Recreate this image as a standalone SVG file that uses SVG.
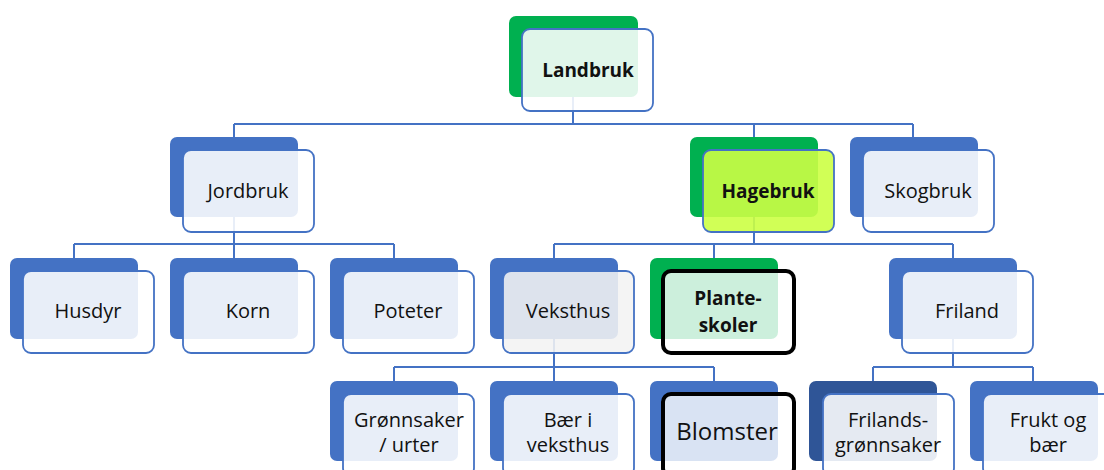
<svg xmlns="http://www.w3.org/2000/svg" width="1104" height="470" viewBox="0 0 1104 470">
<style>
.bg{fill:#ffffff}
.back{fill:#4472C4}
.backg{fill:#00B050}
.backd{fill:#2F5597}
.front{fill:#ffffff;fill-opacity:0.88;stroke:#4472C4;stroke-width:1.8}
.frontgray{fill:#F2F2F2;fill-opacity:0.88;stroke:#4472C4;stroke-width:1.8}
.frontlime{fill:#CCFF44;fill-opacity:0.9;stroke:#4472C4;stroke-width:1.8}
.frontblack{fill:#ffffff;fill-opacity:0.8;stroke:#000000;stroke-width:4}
.conn{fill:none;stroke:#4472C4;stroke-width:2}
text{font-family:"Open Sans","Noto Sans","DejaVu Sans",sans-serif;font-size:20px;fill:#111111;text-anchor:middle}
.b{font-weight:bold;font-size:19px}
.big{font-size:24px}
</style>
<rect class="bg" x="0" y="0" width="1104" height="470"/>
<g id="connectors">
<path class="conn" d="M573,97 V124 M234,124 H913 M234,124 V137 M754,124 V137 M913,124 V137"/>
<path class="conn" d="M234,217 V244 M74,244 H394 M74,244 V258 M234,244 V258 M394,244 V258"/>
<path class="conn" d="M754,217 V244 M554,244 H953 M554,244 V258 M714,244 V258 M953,244 V258"/>
<path class="conn" d="M554,339 V367 M394,367 H714 M394,367 V381 M554,367 V381 M714,367 V381"/>
<path class="conn" d="M953,339 V367 M873,367 H1033 M873,367 V381 M1033,367 V381"/>
</g>
<g id="landbruk">
<rect class="backg" x="509" y="16" width="129" height="81" rx="7"/>
<rect class="front" x="522" y="29" width="131" height="82" rx="8"/>
<text class="b" x="588" y="77">Landbruk</text>
</g>
<g id="jordbruk">
<rect class="back" x="170" y="137" width="128" height="80" rx="7"/>
<rect class="front" x="183" y="150" width="131" height="82" rx="8"/>
<text x="248" y="198">Jordbruk</text>
</g>
<g id="hagebruk">
<rect class="backg" x="690" y="137" width="128" height="80" rx="7"/>
<rect class="frontlime" x="703" y="150" width="131" height="82" rx="8"/>
<text class="b" x="768" y="198">Hagebruk</text>
</g>
<g id="skogbruk">
<rect class="back" x="850" y="137" width="128" height="80" rx="7"/>
<rect class="front" x="863" y="150" width="131" height="82" rx="8"/>
<text x="928" y="198">Skogbruk</text>
</g>
<g id="husdyr">
<rect class="back" x="10" y="258" width="128" height="81" rx="7"/>
<rect class="front" x="23" y="271" width="131" height="82" rx="8"/>
<text x="88" y="318">Husdyr</text>
</g>
<g id="korn">
<rect class="back" x="170" y="258" width="128" height="81" rx="7"/>
<rect class="front" x="183" y="271" width="131" height="82" rx="8"/>
<text x="248" y="318">Korn</text>
</g>
<g id="poteter">
<rect class="back" x="330" y="258" width="128" height="81" rx="7"/>
<rect class="front" x="343" y="271" width="131" height="82" rx="8"/>
<text x="408" y="318">Poteter</text>
</g>
<g id="veksthus">
<rect class="back" x="490" y="258" width="128" height="81" rx="7"/>
<rect class="frontgray" x="503" y="271" width="131" height="82" rx="8"/>
<text x="568" y="318">Veksthus</text>
</g>
<g id="planteskoler">
<rect class="backg" x="650" y="258" width="128" height="81" rx="7"/>
<rect class="frontblack" x="663" y="271" width="131" height="82" rx="8"/>
<text class="b" x="728" y="305">Plante-</text>
<text class="b" x="728" y="332">skoler</text>
</g>
<g id="friland">
<rect class="back" x="889" y="258" width="128" height="81" rx="7"/>
<rect class="front" x="902" y="271" width="131" height="82" rx="8"/>
<text x="967" y="318">Friland</text>
</g>
<g id="gronnsaker">
<rect class="back" x="330" y="381" width="128" height="80" rx="7"/>
<rect class="front" x="343" y="394" width="131" height="82" rx="8"/>
<text x="409" y="427">Grønnsaker</text>
<text x="409" y="452">/ urter</text>
</g>
<g id="baer-veksthus">
<rect class="back" x="490" y="381" width="128" height="80" rx="7"/>
<rect class="front" x="503" y="394" width="131" height="82" rx="8"/>
<text x="568" y="427">Bær i</text>
<text x="568" y="452">veksthus</text>
</g>
<g id="blomster">
<rect class="back" x="650" y="381" width="128" height="80" rx="7"/>
<rect class="frontblack" x="663" y="394" width="131" height="82" rx="8"/>
<text class="big" x="727" y="440">Blomster</text>
</g>
<g id="frilandsgronnsaker">
<rect class="backd" x="809" y="381" width="128" height="80" rx="7"/>
<rect class="front" x="823" y="394" width="131" height="82" rx="8"/>
<text x="888" y="427">Frilands-</text>
<text x="888" y="452">grønnsaker</text>
</g>
<g id="frukt-baer">
<rect class="back" x="970" y="381" width="128" height="80" rx="7"/>
<rect class="front" x="983" y="394" width="131" height="82" rx="8"/>
<text x="1048" y="427">Frukt og</text>
<text x="1048" y="452">bær</text>
</g>
</svg>
